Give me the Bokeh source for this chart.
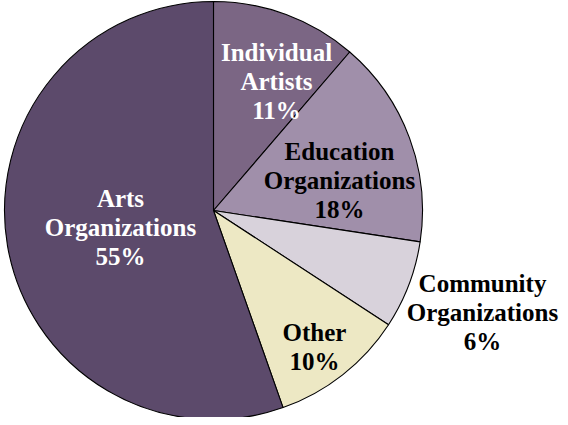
import math
from bokeh.plotting import figure
from bokeh.models import ColumnDataSource, Range1d
from bokeh.embed import file_html
from bokeh.resources import INLINE
from bokeh.core.properties import value

# ---- data ----
categories = ["Individual Artists", "Education Organizations",
              "Community Organizations", "Other", "Arts Organizations"]
shares = [11.3, 16.1, 6.8, 10.4, 55.4]
label_lines = [["Individual", "Artists", "11%"],
               ["Education", "Organizations", "18%"],
               ["Community", "Organizations", "6%"],
               ["Other", "10%"],
               ["Arts", "Organizations", "55%"]]
colors = ["#7b6684", "#a08faa", "#d8d2db", "#ede8c4", "#5c4a6b"]
text_colors = ["white", "black", "black", "black", "white"]
# label block offsets from pie centre (px, screen: x right, y down)
label_offsets = [(63, -129), (126, -30), (269, 102), (101, 136), (-93, 17)]

# ---- layout ----
W, H = 560, 417
CX, CY = 213, H - 210
R = 209
LINE_SP = 29

total = sum(shares)
starts, ends = [], []
cum = 0.0
for s in shares:
    a0 = math.pi / 2 - 2 * math.pi * (cum + s) / total
    a1 = math.pi / 2 - 2 * math.pi * cum / total
    starts.append(a0)
    ends.append(a1)
    cum += s

src = ColumnDataSource(dict(cat=categories, start=starts, end=ends, color=colors,
                            x=[CX] * len(shares), y=[CY] * len(shares)))

p = figure(width=W, height=H, output_backend="svg", toolbar_location=None,
           x_range=Range1d(0, W), y_range=Range1d(0, H), min_border=0)
p.axis.visible = False
p.grid.visible = False
p.outline_line_color = None
p.background_fill_color = "white"
p.border_fill_color = "white"

p.wedge(x="x", y="y", radius=R, start_angle="start", end_angle="end",
        fill_color="color", line_color="black", line_width=1.1, source=src)

tx, ty, tt, tc = [], [], [], []
for lines, (dx, dy), col in zip(label_lines, label_offsets, text_colors):
    bx, by = CX + dx, CY - dy
    n = len(lines)
    for i, t in enumerate(lines):
        tx.append(bx)
        ty.append(by + (n - 1) / 2 * LINE_SP - i * LINE_SP)
        tt.append(t)
        tc.append(col)

tsrc = ColumnDataSource(dict(x=tx, y=ty, text=tt, color=tc))
p.text(x="x", y="y", text="text", source=tsrc, text_color="color",
       text_font=value("Liberation Serif"), text_font_style="bold",
       text_font_size="25px", text_align="center", text_baseline="middle")

open("out.html", "w").write(file_html(p, INLINE))
